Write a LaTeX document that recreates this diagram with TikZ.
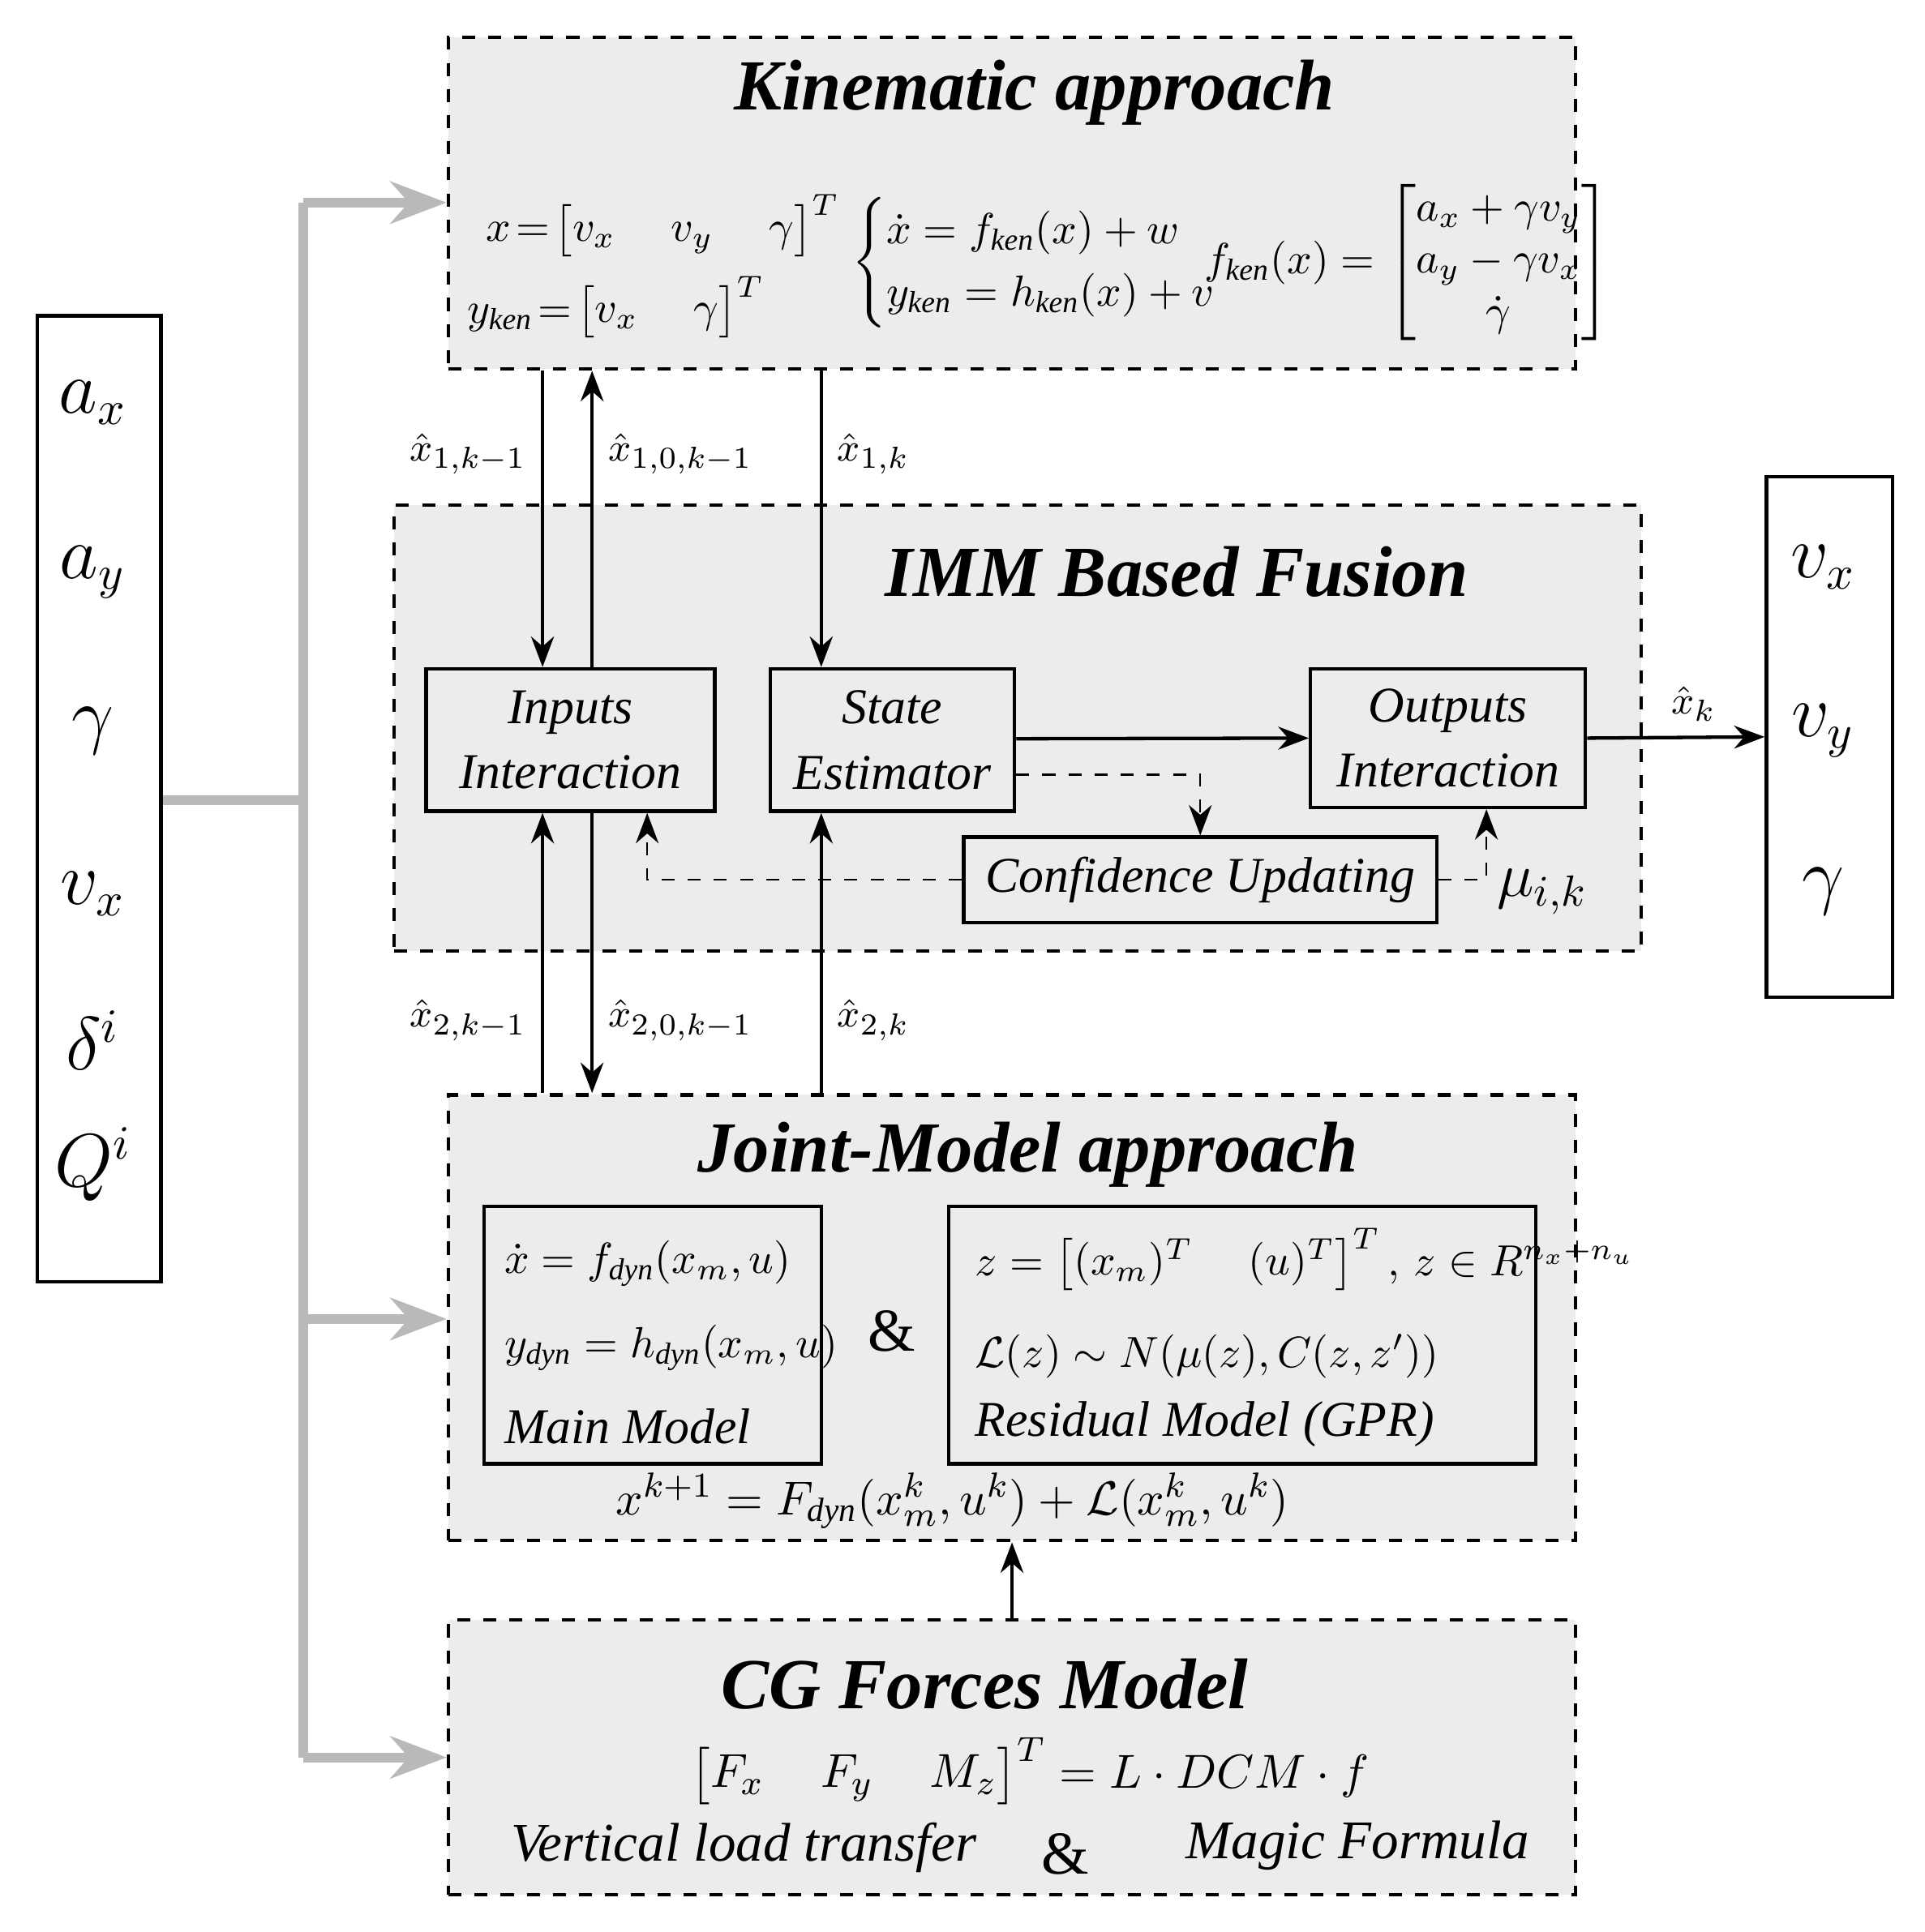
\documentclass[tikz,border=0pt]{standalone}
\usepackage{amsmath,amssymb}
\usepackage{fontspec}
\setmainfont{Liberation Serif}
\usetikzlibrary{positioning, arrows.meta, calc}

\begin{document}
\begin{tikzpicture}[
    % Global Styles
    >=Stealth,
    % Style for the dashed panels
    panel/.style={draw, dashed, thick, fill=gray!15, inner sep=0pt},
    % Style for inner blocks
    blk/.style={draw, thick, fill=gray!15, inner sep=0pt, align=center, font=\fontsize{11.5}{15}\selectfont\itshape},
    % Styles for headings and formulas
    heading/.style={font=\fontsize{16.5}{20}\selectfont\bfseries\itshape},
    formula/.style={font=\fontsize{10}{12}\selectfont, anchor=west},
    sig/.style={font=\fontsize{16}{19}\selectfont},
    lbl/.style={font=\fontsize{9.5}{11}\selectfont},
    % Arrows
    feed/.style={->, line width=2.2pt, gray!55},
    flow/.style={-{Stealth[length=7pt]}, thick},
    conf/.style={-{Stealth[length=7pt]}, dashed}
]
\useasboundingbox (0,0) rectangle (15.54,-15.6);

%% --- SIGNAL BOXES ---
\node[draw, thick, fill=white, minimum width=1cm, minimum height=7.8cm] (in) at (0.80,-6.45) {};
\node[sig] at (0.75,-3.25) {$a_x$};
\node[sig] at (0.75,-4.62) {$a_y$};
\node[sig] at (0.75,-5.90) {$\gamma$};
\node[sig] at (0.75,-7.22) {$v_x$};
\node[sig] at (0.75,-8.40) {$\delta^i$};
\node[sig] at (0.75,-9.40) {$Q^i$};

\node[draw, thick, fill=white, minimum width=1.02cm, minimum height=4.2cm] (out) at (14.77,-5.95) {};
\node[sig] at (14.72,-4.58) {$v_x$};
\node[sig] at (14.72,-5.90) {$v_y$};
\node[sig] at (14.72,-7.20) {$\gamma$};

%% --- KINEMATIC APPROACH ---
\node[panel, minimum width=9.1cm, minimum height=2.68cm] (kin) at (8.17,-1.64) {};
\node[heading] at (8.35,-0.75) {Kinematic approach};
\node[formula] at (3.8,-1.82) {$x\!=\!\begin{bmatrix} v_x & \; v_y & \; \gamma \end{bmatrix}^T$};
\node[formula] at (3.65,-2.48) {$y_{\mathit{ken}}\!=\!\begin{bmatrix} v_x & \; \gamma \end{bmatrix}^T$};
\node[formula] at (6.75,-2.12) {$\begin{cases} \dot{x}=f_{\mathit{ken}}(x)+w\\ y_{\mathit{ken}}=h_{\mathit{ken}}(x)+v\end{cases}$};
\node[formula] at (9.6,-2.12) {$f_{\mathit{ken}}(x)=\begin{bmatrix} a_x+\gamma v_y\\ a_y-\gamma v_x\\ \dot{\gamma}\end{bmatrix}$};

%% --- IMM BASED FUSION ---
\node[panel, minimum width=10.07cm, minimum height=3.6cm] (imm) at (8.215,-5.88) {};
\node[heading] at (9.5,-4.62) {IMM Based Fusion};
\node[blk, minimum width=2.33cm, minimum height=1.15cm] (inp) at (4.605,-5.975) {Inputs\\Interaction};
\node[blk, minimum width=1.97cm, minimum height=1.15cm] (est) at (7.205,-5.975) {State\\Estimator};
\node[blk, minimum width=2.22cm, minimum height=1.12cm] (outp) at (11.69,-5.96) {Outputs\\Interaction};
\node[blk, minimum width=3.82cm, minimum height=0.69cm] (cnf) at (9.69,-7.105) {Confidence Updating};
\node[font=\fontsize{14}{17}\selectfont] at (12.45,-7.2) {$\mu_{i,k}$};

%% --- JOINT-MODEL APPROACH ---
\node[panel, minimum width=9.1cm, minimum height=3.6cm] (jnt) at (8.17,-10.64) {};
\node[heading] at (8.3,-9.32) {Joint-Model approach};
\node[blk, minimum width=2.72cm, minimum height=2.08cm] (main) at (5.27,-10.78) {};
\node[blk, minimum width=4.74cm, minimum height=2.08cm] (res) at (10.03,-10.78) {};
\node[formula] at (3.95,-10.2) {$\dot{x}=f_{\mathit{dyn}}(x_m,u)$};
\node[formula] at (3.95,-10.88) {$y_{\mathit{dyn}}=h_{\mathit{dyn}}(x_m,u)$};
\node[formula, font=\fontsize{11.5}{14}\selectfont\itshape] at (3.95,-11.52) {Main Model};
\node[font=\fontsize{14}{17}\selectfont] at (7.2,-10.75) {\&};
\node[formula] at (7.75,-10.17) {$z=\begin{bmatrix}(x_m)^T & \;(u)^T\end{bmatrix}^T,\, z\in R^{n_x+n_u}$};
\node[formula] at (7.75,-10.95) {$\mathcal{L}(z)\sim N(\mu(z),C(z,z'))$};
\node[formula, font=\fontsize{11.5}{14}\selectfont\itshape] at (7.75,-11.5) {Residual Model (GPR)};
\node[formula, font=\fontsize{11}{13}\selectfont] at (4.85,-12.12) {$x^{k+1}=F_{\mathit{dyn}}(x_m^k,u^k)+\mathcal{L}(x_m^k,u^k)$};

%% --- CG FORCES MODEL ---
\node[panel, minimum width=9.1cm, minimum height=2.22cm] (cg) at (8.17,-14.19) {};
\node[heading] at (7.95,-13.6) {CG Forces Model};
\node[formula, font=\fontsize{11}{13}\selectfont] at (5.45,-14.3) {$\begin{bmatrix}F_x & \; F_y & \; M_z\end{bmatrix}^T=L\cdot DCM\cdot f$};
\node[formula, font=\fontsize{12.5}{15}\selectfont\itshape] at (4.0,-14.92) {Vertical load transfer};
\node[font=\fontsize{14}{17}\selectfont] at (8.6,-14.97) {\&};
\node[formula, font=\fontsize{12.5}{15}\selectfont\itshape] at (9.45,-14.9) {Magic Formula};

%% --- FEED LINES ---
\coordinate (bus) at (2.45,-6.46);
\draw[line width=2.2pt, gray!55] (in.east |- bus) -- (bus);
\draw[line width=2.2pt, gray!55] (bus |- kin.north) ++(0,-1.35) coordinate (bt) -- (bus |- cg.center) coordinate (bb);
\draw[feed] (bt) -- (bt -| kin.west);
\draw[feed] (bus |- main.center) ++(0,0.13) coordinate (bm) -- (bm -| jnt.west);
\draw[feed] (bb) -- (bb -| cg.west);

%% --- IMM ARROWS ---
\coordinate (c1) at (4.38,0);
\coordinate (c2) at (4.78,0);
\coordinate (c3) at (6.63,0);
\draw[flow] (kin.south -| c1) -- (inp.north -| c1) node[pos=0.28, left, lbl] {$\hat{x}_{1,k-1}$};
\draw[flow] (inp.north -| c2) -- (kin.south -| c2) node[pos=0.72, right, lbl] {$\hat{x}_{1,0,k-1}$};
\draw[flow] (kin.south -| c3) -- (est.north -| c3) node[pos=0.28, right, lbl] {$\hat{x}_{1,k}$};
\draw[flow] (jnt.north -| c1) -- (inp.south -| c1) node[pos=0.26, left, lbl] {$\hat{x}_{2,k-1}$};
\draw[flow] (inp.south -| c2) -- (jnt.north -| c2) node[pos=0.74, right, lbl] {$\hat{x}_{2,0,k-1}$};
\draw[flow] (jnt.north -| c3) -- (est.south -| c3) node[pos=0.26, right, lbl] {$\hat{x}_{2,k}$};
\draw[flow] (est.east) ++(0,0.01) -- (outp.west);
\draw[flow] (outp.east) -- (out.west) node[pos=0.6, above, lbl] {$\hat{x}_k$};
\draw[flow] (cg.north) -- (jnt.south);

%% --- CONFIDENCE LOOP ---
\draw[conf] ($(est.east)+(0,-0.28)$) -| (cnf.north);
\draw[conf] (cnf.west) -| ($(inp.south)+(0.62,0)$);
\draw[conf] (cnf.east) -| ($(outp.south)+(0.31,0)$);

\end{tikzpicture}
\end{document}
